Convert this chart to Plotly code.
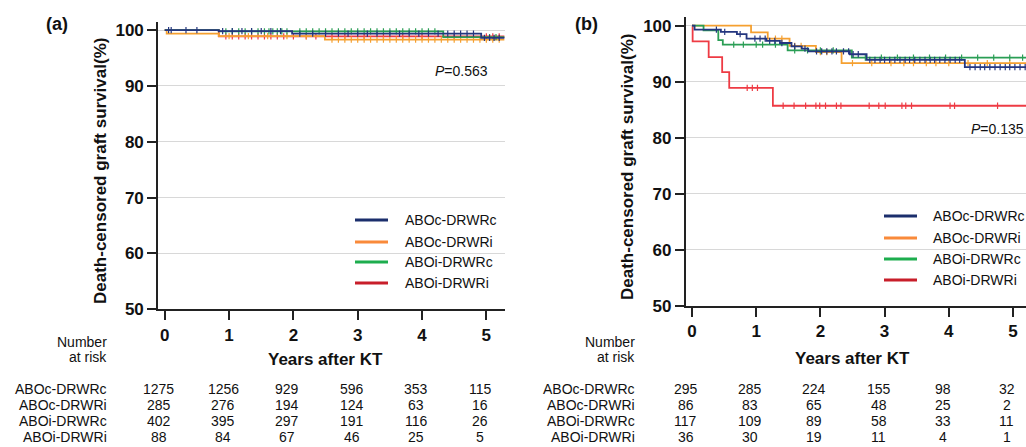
import numpy as np
import plotly.graph_objects as go

W, H = 1026, 447
FONT = "Liberation Sans, Arial, sans-serif"
TXT = "#111111"


def px(x):
    return x / W


def py(y):
    return 1 - y / H


# ---------------- data ----------------
groups = ["ABOc-DRWRc", "ABOc-DRWRi", "ABOi-DRWRc", "ABOi-DRWRi"]
line_colors = ["#24367F", "#F5A030", "#2A9E55", "#EE3B44"]
legend_colors = ["#1B2E6C", "#F98A3A", "#1DAD4E", "#C81E2A"]
years = [0, 1, 2, 3, 4, 5]

# Panel (a): step survival (time in years, survival %)
a_c_c_t = [0, 0.84, 1.98, 4.92, 5.28]
a_c_c_s = [100, 99.8, 99.35, 98.6, 98.6]
a_c_c_cens = [0.06, 0.1, 0.33, 0.5, 0.9, 1.05, 1.2, 1.35, 1.5, 1.65, 1.8, 2.1, 2.3,
              2.5, 2.7, 2.85, 3.0, 3.15, 3.3, 3.5, 3.65, 3.8, 3.95, 4.1, 4.25, 4.4,
              4.5, 4.6, 4.7, 4.8, 4.97, 5.05, 5.12, 5.2]
a_c_i_t = [0, 0.03, 0.84, 2.49, 5.28]
a_c_i_s = [100, 99.35, 98.9, 98.3, 98.3]
a_c_i_cens = [1.0, 1.3, 1.6, 1.9, 2.2, 2.6, 2.7, 2.8, 2.9, 3.0, 3.1, 3.2, 3.3, 3.4,
              3.5, 3.6, 3.7, 3.8, 3.9, 4.0, 4.1, 4.2, 4.3, 4.4, 4.5, 4.6, 4.7, 4.8,
              4.9, 5.0, 5.1, 5.2]
a_i_c_t = [0, 0.84, 4.33, 5.28]
a_i_c_s = [100, 99.75, 98.75, 98.75]
a_i_c_cens = [0.95, 1.05, 1.15, 1.25, 1.35, 1.45, 1.55, 1.62, 1.68, 1.75, 1.82,
              1.9, 2.1, 2.2, 2.3, 2.4, 2.5, 2.6, 2.7, 2.8, 2.9, 3.0, 3.1, 3.2, 3.3,
              3.4, 3.5, 3.6, 3.7, 3.8, 3.9, 4.0, 4.1, 4.2, 5.05, 5.15]
a_i_i_t = [0, 0.84, 5.28]
a_i_i_s = [100, 98.86, 98.86]
a_i_i_cens = [0.95, 1.05, 1.15, 1.25, 1.35, 1.45, 1.55, 1.65, 1.75, 1.85, 2.0,
              2.2, 2.35, 2.6, 2.8, 3.1, 3.4, 3.7, 4.0, 4.5, 5.0, 5.1, 5.2]

# Panel (b)
b_c_c_t = [0, 0.04, 0.45, 0.7, 0.85, 1.16, 1.37, 1.55, 1.71, 1.81, 2.46, 2.72, 4.25, 5.3]
b_c_c_s = [100, 99.3, 98.9, 98.5, 97.7, 97.3, 96.9, 96.3, 95.9, 95.4, 94.9, 93.9, 92.6, 92.6]
b_c_c_cens = [0.38, 0.51, 0.75, 0.98, 1.06, 1.14, 1.21, 1.29, 1.40, 1.60, 1.76,
              1.94, 2.02, 2.1, 2.18, 2.25, 2.36, 2.44, 2.51, 2.59, 2.77, 2.85,
              2.93, 3.0, 3.08, 3.16, 3.24, 3.32, 3.39, 3.47, 3.55, 3.63, 3.71,
              3.78, 3.86, 3.94, 4.02, 4.10, 4.17, 4.33, 4.41, 4.49, 4.56, 4.64,
              4.72, 4.80, 4.88, 4.95, 5.03, 5.11, 5.19]
b_c_i_t = [0, 0.92, 1.18, 1.52, 1.93, 2.33, 5.3]
b_c_i_s = [100, 98.8, 97.7, 96.4, 95.3, 93.3, 93.3]
b_c_i_cens = [1.3, 1.4, 1.6, 1.7, 2.0, 2.1, 2.5, 2.8, 3.1, 3.3, 3.45, 3.65, 3.8,
              4.0, 4.3, 4.6, 4.95]
b_i_c_t = [0, 0.18, 0.41, 0.48, 1.49, 2.49, 5.3]
b_i_c_s = [100, 99.15, 97.4, 96.6, 95.6, 94.3, 94.3]
b_i_c_cens = [0.65, 0.8, 1.0, 1.1, 1.3, 1.6, 1.8, 2.0, 2.2, 2.7, 2.95, 3.2, 3.45,
              3.7, 3.95, 4.2, 4.45, 4.7, 4.95, 5.15]
b_i_i_t = [0, 0.01, 0.26, 0.47, 0.58, 1.26, 5.3]
b_i_i_s = [100, 97.2, 94.4, 91.7, 88.9, 85.7, 85.7]
b_i_i_cens = [0.86, 0.94, 1.02, 1.42, 1.59, 1.77, 1.93, 1.99, 2.08, 2.25, 2.32,
              2.76, 2.91, 3.01, 3.27, 3.33, 3.42, 4.02, 4.09, 4.76]

risk_a = [[1275, 1256, 929, 596, 353, 115],
          [285, 276, 194, 124, 63, 16],
          [402, 395, 297, 191, 116, 26],
          [88, 84, 67, 46, 25, 5]]
risk_b = [[295, 285, 224, 155, 98, 32],
          [86, 83, 65, 48, 25, 2],
          [117, 109, 89, 58, 33, 11],
          [36, 30, 19, 11, 4, 1]]

p_a = "0.563"
p_b = "0.135"

panel_a = [(a_c_c_t, a_c_c_s, a_c_c_cens), (a_c_i_t, a_c_i_s, a_c_i_cens),
           (a_i_c_t, a_i_c_s, a_i_c_cens), (a_i_i_t, a_i_i_s, a_i_i_cens)]
panel_b = [(b_c_c_t, b_c_c_s, b_c_c_cens), (b_c_i_t, b_c_i_s, b_c_i_cens),
           (b_i_c_t, b_i_c_s, b_i_c_cens), (b_i_i_t, b_i_i_s, b_i_i_cens)]


def step_at(times, surv, c):
    idx = np.searchsorted(np.asarray(times), np.asarray(c), side="right") - 1
    return np.asarray(surv)[idx]


fig = go.Figure()
order = [3, 1, 2, 0]
for panel, xa, ya in [(panel_a, "x", "y"), (panel_b, "x2", "y2")]:
    for i in order:
        t, s, cens = panel[i]
        fig.add_trace(go.Scatter(
            x=t, y=s, mode="lines", line=dict(shape="hv", color=line_colors[i], width=1.8),
            xaxis=xa, yaxis=ya, showlegend=False, hoverinfo="skip"))
        fig.add_trace(go.Scatter(
            x=cens, y=step_at(t, s, cens), mode="markers",
            marker=dict(symbol="line-ns", size=4.5,
                        line=dict(color=line_colors[i], width=1.2)),
            xaxis=xa, yaxis=ya, showlegend=False, hoverinfo="skip"))

axis_common = dict(
    showline=True, linewidth=1.6, linecolor="#222222", ticks="outside",
    ticklen=9, tickwidth=1.6, tickcolor="#222222", zeroline=False,
    tickfont=dict(family=FONT, size=17, color=TXT, weight="bold"),
    automargin=False,
)
fig.update_layout(
    width=W, height=H, margin=dict(l=0, r=0, t=0, b=0),
    paper_bgcolor="white", plot_bgcolor="white",
    xaxis=dict(domain=[px(158), px(505)], range=[-0.105, 5.29], tickvals=years,
               anchor="y", showgrid=False, **axis_common),
    yaxis=dict(domain=[py(309.3), py(21.7)], range=[50, 101.5],
               tickvals=[50, 60, 70, 80, 90, 100], anchor="x", showgrid=True,
               gridcolor="#d8d8d8", gridwidth=1, **axis_common),
    xaxis2=dict(domain=[px(685.7), 1.0], range=[-0.098, 5.203], tickvals=years,
                anchor="y2", showgrid=False, **axis_common),
    yaxis2=dict(domain=[py(305.7), py(16.7)], range=[50, 101.6],
                tickvals=[50, 60, 70, 80, 90, 100], anchor="x2", showgrid=True,
                gridcolor="#d8d8d8", gridwidth=1, **axis_common),
)

ann = []
shapes = []


def text(x, y, s, size=14, bold=False, xanchor="center", angle=0, **kw):
    ann.append(dict(x=x, y=y, xref="paper", yref="paper", text=s, showarrow=False,
                    xanchor=xanchor, yanchor="middle", textangle=angle,
                    font=dict(family=FONT, size=size, color=TXT,
                              weight="bold" if bold else "normal"), **kw))


# panel letters
text(px(57), py(24), "(a)", size=18, bold=True)
text(px(586), py(24), "(b)", size=18, bold=True)

# y titles
text(px(100), py(171), "Death-censored graft survival(%)", size=17, bold=True, angle=-90)
text(px(627), py(167), "Death-censored graft survival(%)", size=17, bold=True, angle=-90)

# x titles
text(px(325), py(359), "Years after KT", size=17, bold=True)
text(px(852), py(358), "Years after KT", size=17, bold=True)

# p values
text(px(490), py(71), "<i>P</i>=" + p_a, size=14, xanchor="right")
text(px(1026), py(129), "<i>P</i>=" + p_b, size=14, xanchor="right")

# legends
leg_a_rows = [220, 242, 262, 283]
leg_b_rows = [216, 238, 259, 280]
for rows, x0, x1, xt in [(leg_a_rows, 355, 388, 403), (leg_b_rows, 884, 917, 931)]:
    for i, yy in enumerate(rows):
        shapes.append(dict(type="line", xref="paper", yref="paper",
                           x0=px(x0), x1=px(x1), y0=py(yy), y1=py(yy),
                           line=dict(color=legend_colors[i], width=3.2)))
        text(px(xt), py(yy), groups[i], size=14, xanchor="left")

# number at risk
row_y = [389, 405, 421, 437]
for risk, xl, label_x in [(risk_a, "x", 109), (risk_b, "x2", 637)]:
    text(px(label_x), py(342), "Number", size=14, xanchor="right")
    text(px(label_x), py(357), "at risk", size=14, xanchor="right")
    for i, row in enumerate(risk):
        text(px(label_x), py(row_y[i]), groups[i], size=14, xanchor="right")
        for j, v in enumerate(row):
            ann.append(dict(x=years[j], y=py(row_y[i]), xref=xl, yref="paper",
                            text=str(v), showarrow=False, xanchor="center",
                            yanchor="middle", xshift=-6,
                            font=dict(family=FONT, size=14, color=TXT)))

fig.update_layout(annotations=ann, shapes=shapes)
fig.write_html(
    "out.html",
    config={"displayModeBar": False},
    post_script="document.body.style.margin='0';document.body.style.overflow='hidden';",
)
